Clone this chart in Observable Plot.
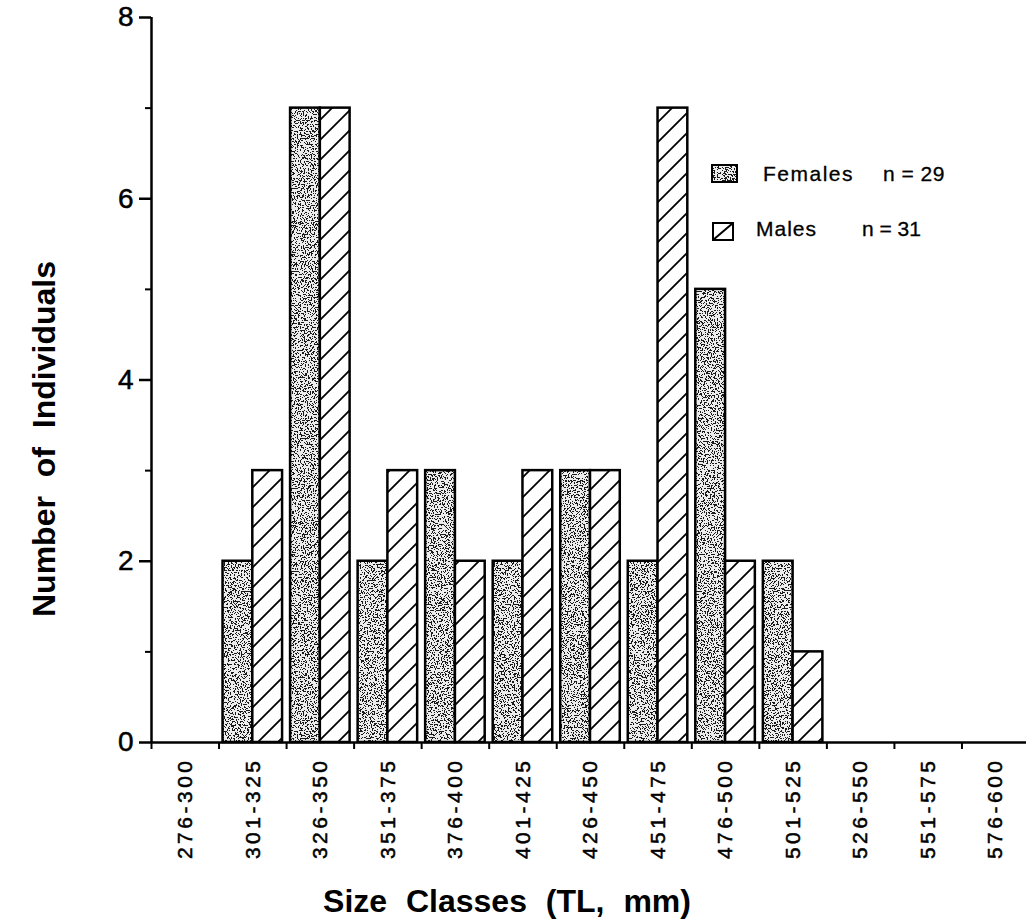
<!DOCTYPE html>
<html>
<head>
<meta charset="utf-8">
<script src="https://cdn.jsdelivr.net/npm/d3@7"></script>
<script src="https://cdn.jsdelivr.net/npm/@observablehq/plot@0.6"></script>
<style>
  html, body { margin: 0; padding: 0; background: #fff; }
</style>
</head>
<body>
<div id="chart"></div>
<script>
const categories = ["276-300","301-325","326-350","351-375","376-400","401-425","426-450","451-475","476-500","501-525","526-550","551-575","576-600"];
const females = [0,2,7,2,3,2,3,2,5,2,0,0,0];
const males   = [0,3,7,3,2,3,3,7,2,1,0,0,0];
const yTicks = [0,2,4,6,8];
const yMinorTicks = [1,3,5,7];
const legendLabels = ["Females","Males"];
const legendN = ["n = 29","n = 31"];
const xTitle = "Size Classes (TL, mm)";
const yTitle = "Number of Individuals";

const fRows = categories.map((c,i)=>({i, cat:c, v: females[i]})).filter(d=>d.v>0);
const mRows = categories.map((c,i)=>({i, cat:c, v: males[i]})).filter(d=>d.v>0);
const boundaries = d3.range(categories.length + 1);

const chart = Plot.plot({
  width: 1026, height: 924,
  marginLeft: 151, marginRight: 0, marginTop: 17, marginBottom: 182,
  style: {fontFamily: "'Liberation Sans', Arial, sans-serif", background: "white", color: "black"},
  x: {domain: [0, categories.length], range: [151, 1029]},
  y: {domain: [0, 8], range: [742, 17]},
  marks: [
    Plot.rectY(fRows, {x1: d=>d.i, x2: d=>d.i+0.5, y1: 0, y2: "v", fill: "url(#stipple)", stroke: "black", strokeWidth: 2.5, insetLeft: 4}),
    Plot.rectY(mRows, {x1: d=>d.i+0.5, x2: d=>d.i+1, y1: 0, y2: "v", fill: "url(#hatch)", stroke: "black", strokeWidth: 2.5, insetRight: 4}),
    Plot.ruleX([0], {strokeWidth: 2.5}),
    Plot.ruleY([0], {strokeWidth: 2.5}),
    Plot.axisY({ticks: yTicks, tickSize: 12, tickPadding: 6, fontSize: 28, label: null, strokeWidth: 2.5}),
    Plot.axisY({ticks: yMinorTicks, tickSize: 6, tickFormat: () => "", label: null, strokeWidth: 2}),
    Plot.axisX({ticks: boundaries, tickSize: 7, tickFormat: () => "", label: null, strokeWidth: 2}),
    Plot.text(categories, {x: (d,i)=>i+0.5, y: categories.map(()=>0), text: d=>d, rotate: -90, textAnchor: "end", dy: 15, fontSize: 21})
  ]
});

document.getElementById("chart").appendChild(chart);
const svg = d3.select(chart);

const ff = "font-family:'Liberation Sans', Arial, sans-serif;";
const heavy = "stroke:black; stroke-width:0.5px;";
const yTickStr = yTicks.map(String);
svg.selectAll("text").each(function() {
  const t = this.textContent;
  if (categories.includes(t)) {
    this.setAttribute("style", ff + heavy + "font-size:21px; letter-spacing:3.5px;");
  } else if (yTickStr.includes(t)) {
    this.setAttribute("style", ff + heavy + "font-size:28px;");
  }
});

const defs = svg.insert("defs", ":first-child");
const f = defs.append("filter").attr("id","noiseF").attr("x",0).attr("y",0).attr("width","100%").attr("height","100%")
  .attr("color-interpolation-filters","sRGB");
f.append("feTurbulence").attr("type","fractalNoise").attr("baseFrequency","0.7").attr("numOctaves","2").attr("seed","7");
f.append("feColorMatrix").attr("type","matrix").attr("values","0 0 0 0 0.1  0 0 0 0 0.1  0 0 0 0 0.1  6 0 0 0 -2.85");
const ct = f.append("feComponentTransfer");
ct.append("feFuncA").attr("type","discrete").attr("tableValues","0 1");
const ps = defs.append("pattern").attr("id","stipple").attr("patternUnits","userSpaceOnUse").attr("width",300).attr("height",300);
ps.append("rect").attr("width",300).attr("height",300).attr("fill","#ececec");
ps.append("rect").attr("width",300).attr("height",300).attr("fill","#000").attr("filter","url(#noiseF)");
const ph = defs.append("pattern").attr("id","hatch").attr("patternUnits","userSpaceOnUse").attr("width",20).attr("height",20);
ph.append("rect").attr("width",20).attr("height",20).attr("fill","white");
ph.append("path").attr("d","M-5,5 L5,-5 M0,20 L20,0 M15,25 L25,15").attr("stroke","black").attr("stroke-width",1.8);

// axis titles
svg.append("text").attr("transform","translate(55,439) rotate(-90)")
  .attr("style", ff + "font-size:32px; font-weight:bold; word-spacing:10px; text-anchor:middle; fill:black;").text(yTitle);
svg.append("text").attr("x",507).attr("y",912)
  .attr("style", ff + "font-size:32px; font-weight:bold; word-spacing:10px; text-anchor:middle; fill:black;").text(xTitle);

// legend
const lg = svg.append("g");
const lstyle = ff + "stroke:black; stroke-width:0.3px; font-size:21px; text-anchor:start; fill:black;";
lg.append("rect").attr("x",712).attr("y",165).attr("width",25).attr("height",17).attr("fill","url(#stipple)").attr("stroke","black").attr("stroke-width",2);
lg.append("text").attr("x",763).attr("y",181).attr("style", lstyle + "letter-spacing:1.5px;").text(legendLabels[0]);
lg.append("text").attr("x",883).attr("y",181).attr("style", lstyle + "letter-spacing:0.5px;").text(legendN[0]);
lg.append("rect").attr("x",713).attr("y",223).attr("width",20).attr("height",17).attr("fill","white").attr("stroke","black").attr("stroke-width",2);
lg.append("line").attr("x1",713).attr("y1",240).attr("x2",733).attr("y2",223).attr("stroke","black").attr("stroke-width",2);
lg.append("text").attr("x",756).attr("y",236).attr("style", lstyle + "letter-spacing:1px;").text(legendLabels[1]);
lg.append("text").attr("x",862).attr("y",236).attr("style", lstyle).text(legendN[1]);
</script>
</body>
</html>
